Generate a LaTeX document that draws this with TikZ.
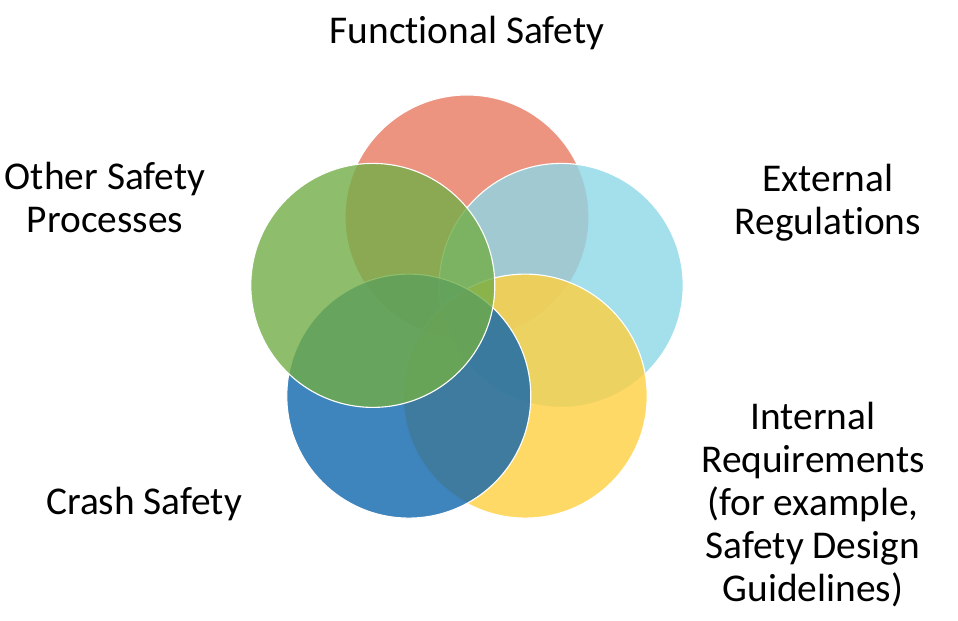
\documentclass[tikz,border=0pt]{standalone}
\usepackage{fontspec}
\setmainfont{Carlito}[Ligatures=NoCommon]
\usepackage{tikz}

\definecolor{fscol}{RGB}{231,121,96}
\definecolor{ercol}{RGB}{141,215,231}
\definecolor{ircol}{RGB}{255,208,64}
\definecolor{cscol}{RGB}{14,101,173}
\definecolor{ospcol}{RGB}{114,174,71}

\tikzset{
  venn/.style={circle, draw=white, line width=0.8pt, fill opacity=0.8,
    draw opacity=1, minimum size=6.1cm, inner sep=0pt},
  area/.style={anchor=base, align=center, inner sep=0pt,
    font=\fontsize{28}{30.6}\selectfont},
}

\begin{document}
\begin{tikzpicture}
        \useasboundingbox (0cm, 0cm) rectangle (23.950000cm, 15.525000cm);
        % circles, back to front
        \node (fs) [venn, fill=fscol] at (11.675000cm, 10.100000cm) {};
        \node (er) [venn, fill=ercol] at (14.030000cm, 8.390000cm) {};
        \node (ir) [venn, fill=ircol] at (13.130000cm, 5.622500cm) {};
        \node (cs) [venn, fill=cscol] at (10.220000cm, 5.622500cm) {};
        \node (osp) [venn, fill=ospcol] at (9.320000cm, 8.390000cm) {};
        % labels (base = last line)
        \node (fslabel) [area] at (11.675000cm, 14.425000cm) {Functional Safety};
        \node (erlabel) [area] at (20.700000cm, 9.650000cm) {External\\Regulations};
        \node (irlabel) [area] at (20.325000cm, 0.475000cm) {Internal\\Requirements\\(for example,\\Safety Design\\Guidelines)};
        \node (cslabel) [area] at (3.600000cm, 2.650000cm) {Crash Safety};
        \node (osplabel) [area] at (2.625000cm, 9.700000cm) {Other Safety\\Processes};
\end{tikzpicture}
\end{document}
